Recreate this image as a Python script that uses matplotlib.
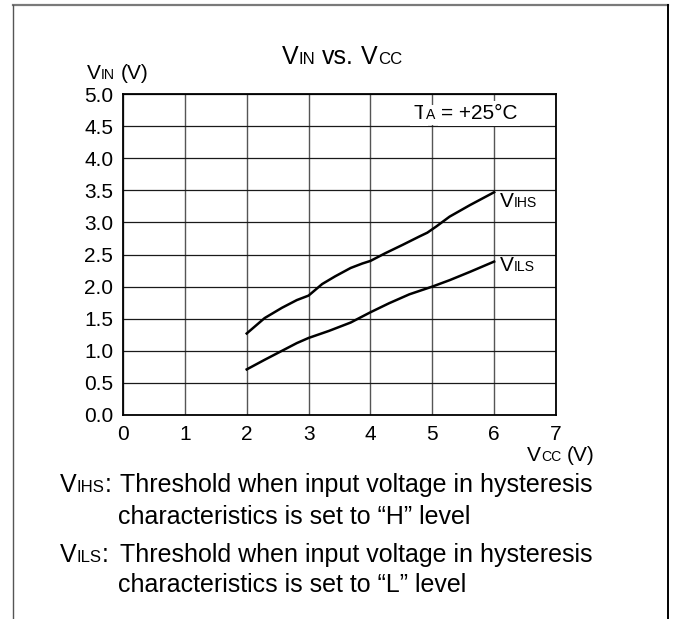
import numpy as np
import matplotlib
matplotlib.use("Agg")
import matplotlib.pyplot as plt
from matplotlib.lines import Line2D

# V_IN vs. V_CC hysteresis thresholds, T_A = +25 C
vcc_ihs = [2.0, 2.29, 2.57, 2.81, 3.0, 3.22, 3.43, 3.68, 3.87, 4.0,
           4.24, 4.52, 4.79, 4.92, 5.07, 5.28, 5.61, 6.0]
vihs = [1.27, 1.51, 1.67, 1.79, 1.86, 2.04, 2.16, 2.29, 2.36, 2.40,
        2.52, 2.65, 2.78, 2.84, 2.94, 3.09, 3.27, 3.47]
vcc_ils = [2.0, 2.29, 2.57, 2.81, 3.0, 3.33, 3.68, 4.0, 4.30, 4.63,
           5.0, 5.28, 5.61, 6.0]
vils = [0.71, 0.86, 1.00, 1.12, 1.20, 1.31, 1.44, 1.60, 1.74, 1.88,
        2.00, 2.10, 2.23, 2.39]

x_ticks = list(range(8))
y_ticks = [0.0, 0.5, 1.0, 1.5, 2.0, 2.5, 3.0, 3.5, 4.0, 4.5, 5.0]

W, H, DPI = 675, 619, 100
FONT = "Liberation Sans"
BIG, MID = 18, 15
SUB = 0.67

plt.rcParams.update({
    "font.family": FONT,
    "font.size": MID,
})

fig = plt.figure(figsize=(W / DPI, H / DPI), dpi=DPI)
renderer = fig.canvas.get_renderer()


def px(x, y):
    """top-left pixel coords -> display coords"""
    return x, H - y


def runs(x, y, parts, **kw):
    """Draw mixed-size text pieces on a common baseline (display coords)."""
    for s, size in parts:
        lead = len(s) - len(s.lstrip(" "))
        trail = len(s) - len(s.rstrip(" "))
        sp = 0.278 * size * DPI / 72
        x += lead * sp
        core = s.strip(" ")
        t = fig.text(x, y, core, fontsize=size, ha="left", va="baseline",
                     transform=None, family=FONT, **kw)
        x += t.get_window_extent(renderer).width + trail * sp
    return x


# plot area
l, r, t_, b = 123, 556, 94, 415
ax = fig.add_axes([l / W, 1 - b / H, (r - l) / W, (b - t_) / H])
ax.plot(vcc_ihs, vihs, color="black", lw=1.8, zorder=4)
ax.plot(vcc_ils, vils, color="black", lw=1.8, zorder=4)
ax.set_xlim(0, 7)
ax.set_ylim(0, 5)
ax.set_xticks(x_ticks)
ax.set_yticks(y_ticks)
ax.set_yticklabels([f"{v:.1f}" for v in y_ticks])
ax.tick_params(length=0, pad=7, labelsize=MID)
ax.xaxis.grid(True, color="#555555", lw=1.0)
ax.yaxis.grid(True, color="#1a1a1a", lw=0.9)
ax.set_axisbelow(True)
for sp in ax.spines.values():
    sp.set_linewidth(1.3)
    sp.set_color("black")

# outer frame
fig.add_artist(Line2D([13 / W, 668 / W], [1 - 5 / H, 1 - 5 / H],
                      color="#7a7a7a", lw=1.6))
fig.add_artist(Line2D([13 / W, 13 / W], [0, 1 - 5 / H], color="#555555", lw=1.0))
fig.add_artist(Line2D([668 / W, 668 / W], [0, 1 - 5 / H], color="black", lw=1.4))

# title and axis labels
runs(*px(282, 64), [("V", BIG), ("IN", BIG * SUB), (" vs. ", BIG),
                    ("V", BIG), ("CC", BIG * SUB)])
runs(*px(87, 79), [("V", MID), ("IN", MID * SUB), (" (V)", MID)])
runs(*px(527, 461), [("V", MID), ("CC", MID * SUB), (" (V)", MID)])

# ambient temperature note
fig.canvas.draw()
box = dict(facecolor="white", edgecolor="none", pad=2)
runs(*px(413, 119), [("T", MID), ("A", MID * SUB), (" = +25°C", MID)], bbox=box)

# curve labels
for lx, ly, name in [(6.09, 3.24, "IHS"), (6.09, 2.24, "ILS")]:
    dx, dy = ax.transData.transform((lx, ly))
    runs(dx, dy, [("V", MID), (name, MID * SUB)])

# footnotes
runs(*px(60, 492), [("V", BIG), ("IHS", BIG * SUB), (":", BIG)])
runs(*px(120, 492), [("Threshold when input voltage in hysteresis", BIG)])
runs(*px(118, 524), [("characteristics is set to \u201cH\u201d level", BIG)])
runs(*px(60, 562), [("V", BIG), ("ILS", BIG * SUB), (":", BIG)])
runs(*px(120, 562), [("Threshold when input voltage in hysteresis", BIG)])
runs(*px(118, 592), [("characteristics is set to \u201cL\u201d level", BIG)])

fig.savefig("out.png", dpi=DPI)
